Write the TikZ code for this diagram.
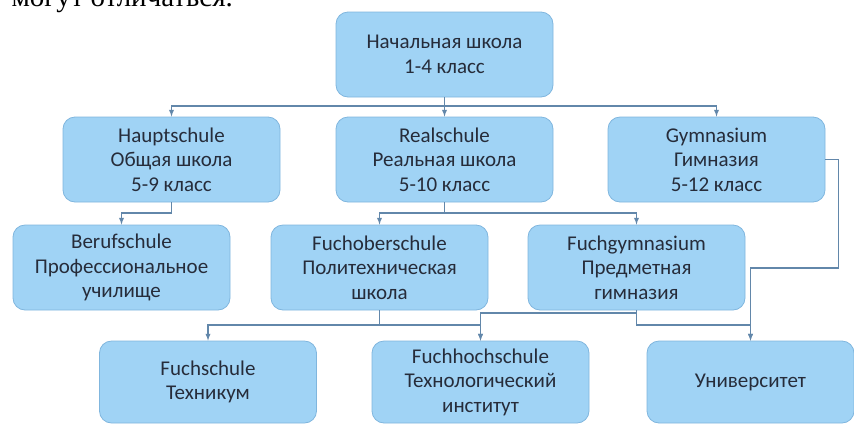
\documentclass[tikz,border=0pt]{standalone}
\usepackage{fontspec}
\setmainfont{Carlito}
\newfontfamily\notefont{Liberation Serif}
\usetikzlibrary{arrows}
\definecolor{boxfill}{RGB}{160,211,245}
\definecolor{boxline}{RGB}{128,182,222}
\definecolor{linkcol}{RGB}{98,135,170}
\definecolor{txt}{RGB}{38,44,58}
\tikzset{
  box/.style={rounded corners=12pt,draw=boxline,line width=0.8pt,fill=boxfill,text=txt,
    align=center,inner sep=0pt,minimum width=217pt,minimum height=85pt,
    font=\fontsize{21}{24.5}\selectfont},
  link/.style={->,color=linkcol,line width=1.3pt}
}
\begin{document}
\begin{tikzpicture}[line join=miter,>=latex,x=1pt,y=-1pt]
      \useasboundingbox (0,0) rectangle (854,424);
      \clip (0,0) rectangle (854,424);
      \node[anchor=base west,font=\notefont\fontsize{29}{30}\selectfont] (note) at (8,6) {могут отличаться.};
      \node[box] (nach) at (444.5,54.5) {Начальная школа\\1-4 класс};
      \node[box] (haupt) at (171.5,159.5) {Hauptschule\\Общая школа\\5-9 класс};
      \node[box] (real) at (444.5,159.5) {Realschule\\Реальная школа\\5-10 класс};
      \node[box] (gymn) at (716.5,159.5) {Gymnasium\\Гимназия\\5-12 класс};
      \node[box] (beruf) at (121.5,267.5) {Berufschule\\Профессиональное\\училище};
      \node[box] (fob) at (379.5,267.5) {Fuchoberschule\\Политехническая\\школа};
      \node[box] (fgym) at (636.5,267.5) {Fuchgymnasium\\Предметная\\гимназия};
      \node[box,minimum height=82pt] (fschule) at (208,382) {Fuchschule\\Техникум};
      \node[box,minimum height=82pt] (fhs) at (480.5,382) {Fuchhochschule\\Технологический\\институт};
      \node[box,minimum height=82pt,minimum width=207pt] (uni) at (750.5,382) {Университет};
      \coordinate (bus1) at (0,106);
      \coordinate (bus2) at (0,213);
      \coordinate (bus3) at (0,313);
      \coordinate (bus4) at (0,325);
      \coordinate (bus5) at (0,268);
      \foreach \n in {haupt,real,gymn}
      \draw[link] (nach.south) |- (\n.north |- bus1) -- (\n.north);
      \draw[link] (haupt.south) |- (beruf.north |- bus2) -- (beruf.north);
      \foreach \n in {fob,fgym}
      \draw[link] (real.south) |- (\n.north |- bus2) -- (\n.north);
      \foreach \n in {fschule,fhs}
      \draw[link] (fob.south) |- (\n.north |- bus4) -- (\n.north);
      \draw[link] (fgym.south) |- (fhs.north |- bus3) -- (fhs.north);
      \draw[link] (fgym.south) |- (uni.north |- bus4) -- (uni.north);
      \draw[link] (gymn.east) -- ++(13,0) |- (uni.north |- bus5) -- (uni.north);
    \end{tikzpicture}
\end{document}
